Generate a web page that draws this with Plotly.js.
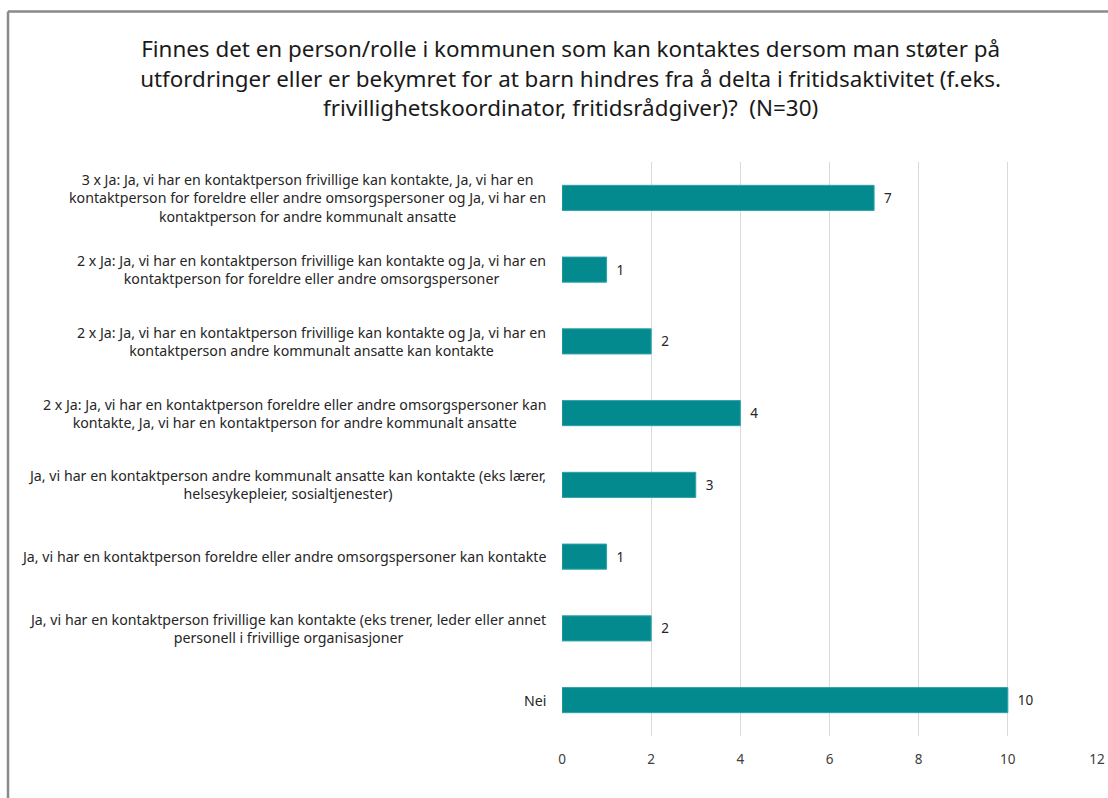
<!DOCTYPE html>
<html>
<head>
<meta charset="utf-8">
<script src="https://cdn.plot.ly/plotly-3.0.1.min.js"></script>
<style>html,body{margin:0;padding:0;background:#fff;}#chart{width:1108px;height:798px;}</style>
</head>
<body>
<div id="chart"></div>
<script>
const categories = [
  "3 x Ja: Ja, vi har en kontaktperson frivillige kan kontakte, Ja, vi har en<br>kontaktperson for foreldre eller andre omsorgspersoner og Ja, vi har en<br>kontaktperson for andre kommunalt ansatte",
  "2 x Ja: Ja, vi har en kontaktperson frivillige kan kontakte og Ja, vi har en<br>kontaktperson for foreldre eller andre omsorgspersoner",
  "2 x Ja: Ja, vi har en kontaktperson frivillige kan kontakte og Ja, vi har en<br>kontaktperson andre kommunalt ansatte kan kontakte",
  "2 x Ja: Ja, vi har en kontaktperson foreldre eller andre omsorgspersoner kan<br>kontakte, Ja, vi har en kontaktperson for andre kommunalt ansatte",
  "Ja, vi har en kontaktperson andre kommunalt ansatte kan kontakte (eks lærer,<br>helsesykepleier, sosialtjenester)",
  "Ja, vi har en kontaktperson foreldre eller andre omsorgspersoner kan kontakte",
  "Ja, vi har en kontaktperson frivillige kan kontakte (eks trener, leder eller annet<br>personell i frivillige organisasjoner",
  "Nei"
];
const values = [7, 1, 2, 4, 3, 1, 2, 10];
const xTicks = [0, 2, 4, 6, 8, 10, 12];
const titleText = "Finnes det en person/rolle i kommunen som kan kontaktes dersom man støter på<br>utfordringer eller er bekymret for at barn hindres fra å delta i fritidsaktivitet (f.eks.<br>frivillighetskoordinator, fritidsrådgiver)?  (N=30)";

const FONT = "Noto Sans, Open Sans, sans-serif";

const trace = {
  type: "bar",
  orientation: "h",
  x: values,
  y: categories,
  marker: {color: "#038a8f", line: {color: "#2fa3a7", width: 1}},
  width: 0.35,
  texttemplate: "\u00a0\u00a0%{x}",
  textposition: "outside",
  textfont: {family: FONT, size: 13.5, color: "#262626"},
  cliponaxis: false,
  hoverinfo: "none"
};

const annotations = categories.map(c => ({
  text: c,
  xref: "paper",
  yref: "y",
  x: -0.026,
  y: c,
  xanchor: "right",
  yanchor: "middle",
  align: "center",
  showarrow: false,
  font: {family: FONT, size: 14.2, color: "#262626"}
}));

const layout = {
  width: 1108,
  height: 798,
  margin: {l: 562, r: 11, t: 162, b: 62},
  paper_bgcolor: "#ffffff",
  plot_bgcolor: "#ffffff",
  showlegend: false,
  title: {
    text: titleText,
    font: {family: FONT, size: 22.4, color: "#1a1a1a"},
    x: 0.515,
    xanchor: "center",
    xref: "container",
    yref: "container",
    y: 0.928,
    yanchor: "middle"
  },
  xaxis: {
    range: [0, 12],
    tickvals: xTicks,
    ticktext: xTicks.map(String),
    showgrid: true,
    gridcolor: "#d9d9d9",
    gridwidth: 1,
    zeroline: false,
    showline: false,
    ticks: "",
    ticklabelstandoff: 13,
    tickfont: {family: FONT, size: 13.5, color: "#404040"},
    fixedrange: true
  },
  yaxis: {
    type: "category",
    autorange: "reversed",
    showticklabels: false,
    showgrid: false,
    zeroline: false,
    showline: false,
    ticks: "",
    fixedrange: true
  },
  annotations: annotations,
  shapes: [
    {type: "line", xref: "paper", yref: "paper", x0: -1.0355, x1: 1.05, y0: 1.2622, y1: 1.2622, line: {color: "#8a8a8a", width: 2.5}},
    {type: "line", xref: "paper", yref: "paper", x0: -1.0355, x1: -1.0355, y0: 1.2622, y1: -0.2, line: {color: "#8a8a8a", width: 2.5}}
  ]
};

Plotly.newPlot("chart", [trace], layout, {displayModeBar: false, staticPlot: true});
</script>
</body>
</html>
